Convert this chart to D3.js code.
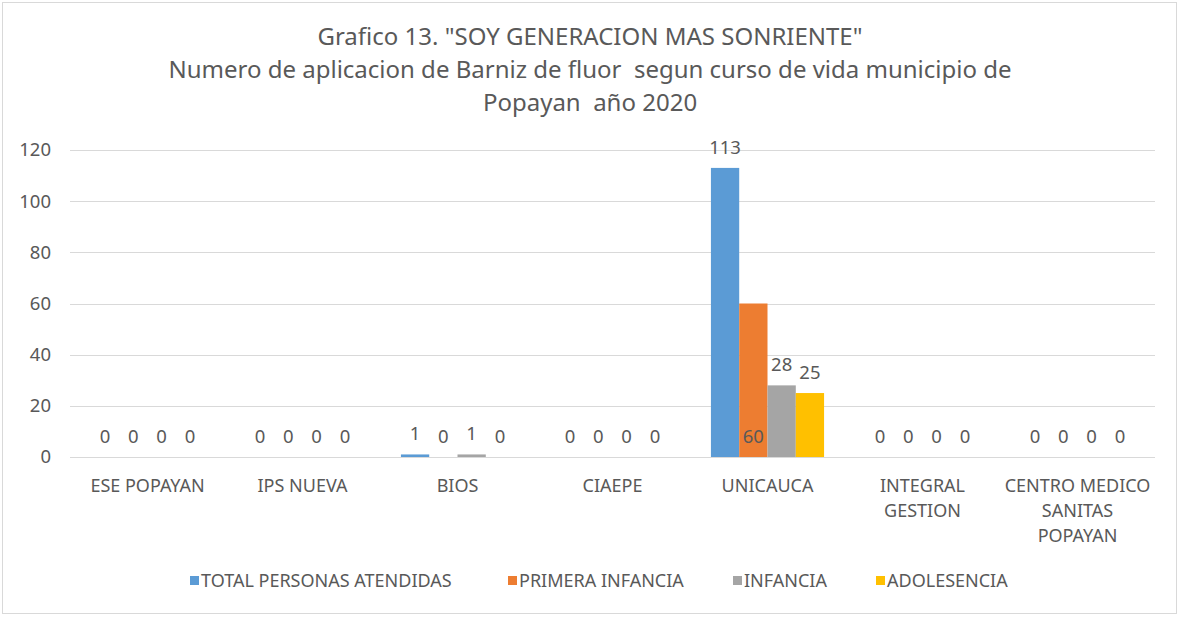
<!DOCTYPE html>
<html>
<head>
<meta charset="utf-8">
<script src="https://cdn.jsdelivr.net/npm/d3@7"></script>
<style>
  body { margin: 0; background: #fff; }
  text { font-family: "Noto Sans", sans-serif; fill: #595959; white-space: pre; }
</style>
</head>
<body>
<svg id="chart" width="1180" height="617"></svg>
<script>
// DATA
const categories = [
  ["ESE POPAYAN"],
  ["IPS NUEVA"],
  ["BIOS"],
  ["CIAEPE"],
  ["UNICAUCA"],
  ["INTEGRAL", "GESTION"],
  ["CENTRO MEDICO", "SANITAS", "POPAYAN"],
];
const series = ["TOTAL PERSONAS ATENDIDAS", "PRIMERA INFANCIA", "INFANCIA", "ADOLESENCIA"];
const total = [0, 0, 1, 0, 113, 0, 0];
const primera = [0, 0, 0, 0, 60, 0, 0];
const infancia = [0, 0, 1, 0, 28, 0, 0];
const adolesencia = [0, 0, 0, 0, 25, 0, 0];
const yTicks = [0, 20, 40, 60, 80, 100, 120];
const titleLines = [
  'Grafico 13. "SOY GENERACION MAS SONRIENTE"',
  "Numero de aplicacion de Barniz de fluor  segun curso de vida municipio de",
  "Popayan  año 2020",
];
const colors = ["#5B9BD5", "#ED7D31", "#A5A5A5", "#FFC000"];

const values = [total, primera, infancia, adolesencia];
const catKeys = categories.map((c) => c.join(" "));

// CANVAS SETUP
const svg = d3.select("#chart");
const margin = { top: 150, right: 25, bottom: 160, left: 70 },
  width = 1180 - margin.left - margin.right,
  height = 457 - margin.top;

svg.append("rect")
  .attr("x", 2.5).attr("y", 2.5)
  .attr("width", 1174).attr("height", 611)
  .attr("fill", "none").attr("stroke", "#d9d9d9");

const g = svg.append("g").attr("transform", `translate(${margin.left},${margin.top})`);

const y = d3.scaleLinear().domain([0, 120]).range([height, 0]);
const x0 = d3.scaleBand().domain(catKeys).range([0, width]);
const x1 = d3.scaleBand().domain(series).range([0, x0.bandwidth() * 0.73]);
const off = (x0.bandwidth() - x1.range()[1]) / 2;

// gridlines
g.selectAll(".grid")
  .data(yTicks)
  .join("line")
  .attr("x1", 0).attr("x2", width)
  .attr("y1", (d) => Math.round(y(d)) + 0.5)
  .attr("y2", (d) => Math.round(y(d)) + 0.5)
  .attr("stroke", "#d9d9d9").attr("stroke-width", 1);

// y axis labels
g.selectAll(".ytick")
  .data(yTicks)
  .join("text")
  .attr("x", -19)
  .attr("y", (d) => y(d))
  .attr("dy", "0.35em")
  .attr("text-anchor", "end")
  .style("font-size", "18.5px")
  .text((d) => d);

// bars
const grp = g.selectAll(".grp")
  .data(catKeys)
  .join("g")
  .attr("transform", (d) => `translate(${x0(d) + off},0)`);

const cells = grp.selectAll("g")
  .data((d, i) => series.map((s, j) => ({ s, j, v: values[j][i], cat: d })))
  .join("g");

cells.append("rect")
  .attr("x", (d) => x1(d.s))
  .attr("width", x1.bandwidth())
  .attr("y", (d) => y(d.v))
  .attr("height", (d) => y(0) - y(d.v))
  .attr("fill", (d) => colors[d.j]);

// data labels (Excel put the 60 at the inside base)
cells.append("text")
  .attr("x", (d) => x1(d.s) + x1.bandwidth() / 2)
  .attr("y", (d) => (d.cat === "UNICAUCA" && d.j === 1 ? y(0) - 14 : y(d.v) - 14))
  .attr("text-anchor", "middle")
  .style("font-size", "18.5px")
  .text((d) => d.v);

// x labels
const xl = g.selectAll(".xlab")
  .data(categories)
  .join("text")
  .attr("text-anchor", "middle")
  .attr("transform", (d, i) => `translate(${x0(catKeys[i]) + x0.bandwidth() / 2},${height + 35})`)
  .style("font-size", "18px");
xl.selectAll("tspan")
  .data((d) => d)
  .join("tspan")
  .attr("x", 0)
  .attr("dy", (d, i) => (i === 0 ? 0 : 25))
  .text((d) => d);

// title
svg.selectAll(".title")
  .data(titleLines)
  .join("text")
  .attr("x", 590)
  .attr("y", (d, i) => 45 + i * 33)
  .attr("text-anchor", "middle")
  .style("font-size", "24px")
  .text((d) => d);

// legend
const legX = [190, 508, 733, 876];
const leg = svg.selectAll(".leg")
  .data(series)
  .join("g")
  .attr("transform", (d, i) => `translate(${legX[i]},581)`);
leg.append("rect")
  .attr("x", 0).attr("y", -5)
  .attr("width", 9).attr("height", 9)
  .attr("fill", (d, i) => colors[i]);
leg.append("text")
  .attr("x", 11).attr("dy", "0.35em")
  .style("font-size", "18px")
  .text((d) => d);
</script>
</body>
</html>
